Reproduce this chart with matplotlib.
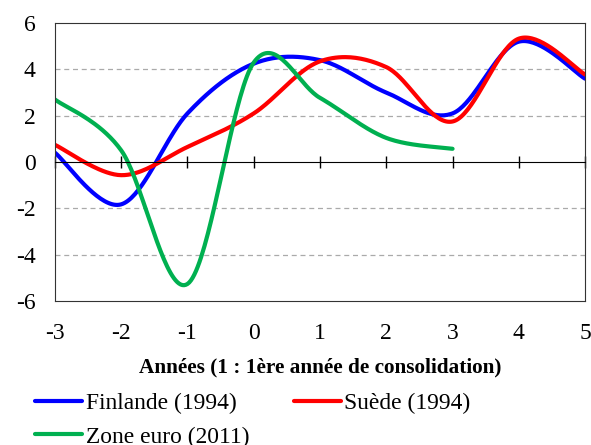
import numpy as np
import matplotlib
matplotlib.use("Agg")
import matplotlib.pyplot as plt

plt.rcParams['font.family'] = ['Liberation Serif', 'DejaVu Serif']
plt.rcParams['axes.unicode_minus'] = False

annees = [-3, -2, -1, 0, 1, 2, 3, 4, 5]
finlande = [0.4, -1.83, 2.1, 4.25, 4.4, 3.0, 2.1, 5.2, 3.6]
suede = [0.74, -0.57, 0.65, 2.1, 4.35, 4.1, 1.75, 5.33, 3.78]
annees_ze = [-3, -2, -1, 0, 1, 2, 3]
zone_euro = [2.7, 0.5, -5.27, 4.3, 2.77, 1.04, 0.57]


def lisse(x, y, n=40):
    # courbe lissée type Excel (Bezier / Catmull-Rom)
    x = np.asarray(x, float)
    y = np.asarray(y, float)
    xs, ys = [], []
    for i in range(len(x) - 1):
        x0, y0 = (x[i - 1], y[i - 1]) if i > 0 else (x[i], y[i])
        x3, y3 = (x[i + 2], y[i + 2]) if i + 2 < len(x) else (x[i + 1], y[i + 1])
        c1x = x[i] + (x[i + 1] - x0) / 6
        c1y = y[i] + (y[i + 1] - y0) / 6
        c2x = x[i + 1] - (x3 - x[i]) / 6
        c2y = y[i + 1] - (y3 - y[i]) / 6
        t = np.linspace(0, 1, n)
        bx = (1-t)**3*x[i] + 3*(1-t)**2*t*c1x + 3*(1-t)*t**2*c2x + t**3*x[i+1]
        by = (1-t)**3*y[i] + 3*(1-t)**2*t*c1y + 3*(1-t)*t**2*c2y + t**3*y[i+1]
        xs.extend(bx)
        ys.extend(by)
    return xs, ys


fig = plt.figure(figsize=(5.91, 4.45), dpi=100)
ax = fig.add_axes([0.093, 0.324, 0.897, 0.624])

for v in [-4, -2, 2, 4]:
    ax.axhline(v, color='#aaaaaa', lw=0.9, ls=(0, (4, 3)), zorder=0)

l1, = ax.plot(*lisse(annees, finlande), color='#0000FF', lw=3, label='Finlande (1994)',
              solid_capstyle='round')
l2, = ax.plot(*lisse(annees, suede), color='#FF0000', lw=3, label='Suède (1994)',
              solid_capstyle='round')
l3, = ax.plot(*lisse(annees_ze, zone_euro), color='#00B050', lw=3, label='Zone euro (2011)',
              solid_capstyle='round')

ax.set_xlim(-3, 5)
ax.set_ylim(-6, 6)
ax.set_yticks(range(-6, 7, 2))
ax.tick_params(axis='y', length=0, pad=14, labelsize=17)

# axe horizontal passant par 0
ax.spines['bottom'].set_position(('data', 0))
ax.set_xticks(annees)
ax.tick_params(axis='x', direction='inout', length=8, width=1, labelbottom=False)
for s in ['left', 'top', 'right']:
    ax.spines[s].set_color('#333333')

sec = ax.secondary_xaxis('bottom')
sec.set_xticks(annees)
sec.tick_params(length=0, pad=16, labelsize=17)
sec.spines['bottom'].set_color('#333333')
sec.set_xlabel('Années (1 : 1ère année de consolidation)', fontsize=15.3,
               fontweight='bold', labelpad=10)

fig.legend(handles=[l1, l3, l2], loc='upper left', bbox_to_anchor=(0.06, 0.117),
           ncol=2, frameon=False, fontsize=16.9, handlelength=2.0, handletextpad=0.15,
           columnspacing=1.9, borderaxespad=0, borderpad=0, labelspacing=0.5)

fig.savefig('out.png', dpi=100)
